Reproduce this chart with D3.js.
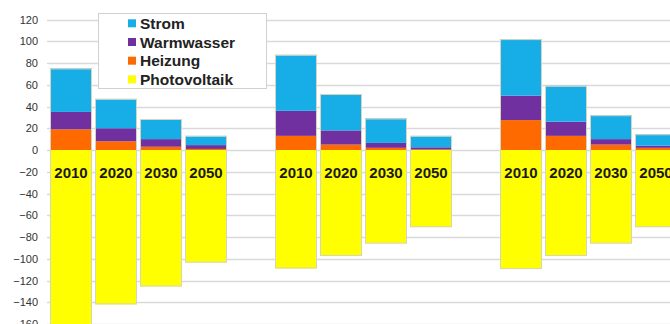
<!DOCTYPE html>
<html>
<head>
<meta charset="utf-8">
<script src="https://cdn.jsdelivr.net/npm/d3@7"></script>
<style>
  html, body { margin: 0; padding: 0; background: #fff; }
  svg { display: block; }
</style>
</head>
<body>
<svg id="chart" width="670" height="324"></svg>
<script>
// ---- data ----
const slots = ["A2010","A2020","A2030","A2050","gap1","B2010","B2020","B2030","B2050","gap2","C2010","C2020","C2030","C2050"];
const yearLabels = ["2010","2020","2030","2050","","2010","2020","2030","2050","","2010","2020","2030","2050"];
const seriesNames = ["Strom","Warmwasser","Heizung","Photovoltaik"];
const heizung      = [19, 8, 3, 1,   null, 13, 5, 2, 0.5,   null, 27.5, 13, 5, 2];
const warmwasser   = [16, 12, 7, 3.5, null, 23, 13, 4.5, 2, null, 22.5, 13, 5, 2];
const strom        = [40, 27, 18.5, 8.5, null, 51.5, 33.5, 22.5, 10.5, null, 52, 33, 22, 10.5];
const photovoltaik = [-175, -142, -125.5, -103.5, null, -109, -97.5, -86, -71, null, -109.5, -97.5, -86, -71];
const yTicks = [120,100,80,60,40,20,0,-20,-40,-60,-80,-100,-120,-140,-160];
const colors = {Strom:"#17aee8", Warmwasser:"#7030a0", Heizung:"#ff6a00", Photovoltaik:"#ffff00"};

// ---- scales ----
const svg = d3.select("#chart");
const x = d3.scaleBand().domain(slots).range([48.5, 48.5 + 45*14]).paddingInner(3/45).paddingOuter(1/30);
const y = d3.scaleLinear().domain([-160, 120]).range([324, 19.5]);

// gridlines
svg.append("g").selectAll("line").data(yTicks).join("line")
  .attr("x1", 47).attr("x2", 670)
  .attr("y1", d => Math.round(y(d)) + 0.5).attr("y2", d => Math.round(y(d)) + 0.5)
  .attr("stroke", "#d9d9d9").attr("stroke-width", 1.5);

// y axis labels
const yAxis = d3.axisLeft(y).tickValues(yTicks).tickSize(0).tickPadding(0);
const ya = svg.append("g").attr("transform", "translate(38,0)").call(yAxis);
ya.select(".domain").remove();
ya.selectAll("text").attr("font-family", "Liberation Sans, Arial, sans-serif").attr("font-size", 11).attr("fill", "#333");

// bars
const rows = slots.map((s, i) => ({slot: s, label: yearLabels[i], Heizung: heizung[i], Warmwasser: warmwasser[i], Strom: strom[i], Photovoltaik: photovoltaik[i]}))
  .filter(r => r.Strom !== null);

const posOrder = ["Heizung","Warmwasser","Strom"];
const g = svg.append("g");
rows.forEach(r => {
  let base = 0;
  posOrder.forEach(k => {
    const v = r[k];
    g.append("rect")
      .attr("x", x(r.slot)).attr("width", x.bandwidth())
      .attr("y", y(base + v)).attr("height", y(base) - y(base + v))
      .attr("fill", colors[k]);
    base += v;
  });
  g.append("rect")
    .attr("x", x(r.slot)).attr("width", x.bandwidth())
    .attr("y", y(0)).attr("height", y(r.Photovoltaik) - y(0))
    .attr("fill", colors.Photovoltaik);
  // outline
  g.append("rect")
    .attr("x", x(r.slot) + 0.5).attr("width", x.bandwidth() - 1)
    .attr("y", y(base) + 0.5).attr("height", y(r.Photovoltaik) - y(base) - 1)
    .attr("fill", "none").attr("stroke", "#d4d4c0").attr("stroke-width", 1);
  g.append("text")
    .attr("x", x(r.slot) + x.bandwidth()/2).attr("y", y(0) + 28)
    .attr("text-anchor", "middle")
    .attr("font-family", "Liberation Sans, Arial, sans-serif").attr("font-weight", "bold").attr("font-size", 15)
    .attr("fill", "#1a1a1a").text(r.label);
});

// legend
const lg = svg.append("g");
lg.append("rect").attr("x", 98.5).attr("y", 13.5).attr("width", 168).attr("height", 75)
  .attr("fill", "#fff").attr("stroke", "#d0d0d0");
seriesNames.forEach((n, i) => {
  const cy = 23.3 + i * 18.7;
  lg.append("rect").attr("x", 128).attr("y", cy - 4).attr("width", 8).attr("height", 8).attr("fill", colors[n]);
  lg.append("text").attr("x", 140).attr("y", cy + 5.5)
    .attr("font-family", "Liberation Sans, Arial, sans-serif").attr("font-weight", "bold").attr("font-size", 15.5)
    .attr("fill", "#222").text(n);
});
</script>
</body>
</html>
